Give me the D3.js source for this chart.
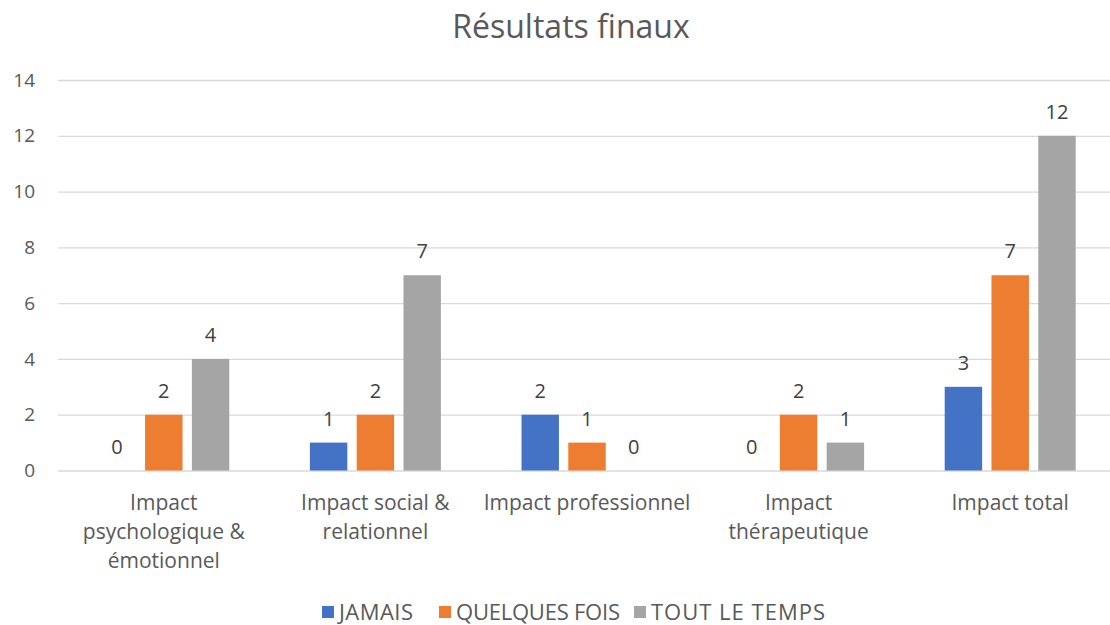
<!DOCTYPE html>
<html>
<head>
<meta charset="utf-8">
<script src="https://cdn.jsdelivr.net/npm/d3@7"></script>
<style>
  body { margin: 0; background: #fff; }
  text { font-family: "Open Sans", "Liberation Sans", Arial, sans-serif; }
</style>
</head>
<body>
<div id="chart"></div>
<script>
const categories = [
  ["Impact", "psychologique &", "émotionnel"],
  ["Impact social &", "relationnel"],
  ["Impact professionnel"],
  ["Impact", "thérapeutique"],
  ["Impact total"]
];
const seriesNames = ["JAMAIS", "QUELQUES FOIS", "TOUT LE TEMPS"];
const jamais = [0, 1, 2, 0, 3];
const quelquesFois = [2, 2, 1, 2, 7];
const toutLeTemps = [4, 7, 0, 1, 12];
const yTicks = [0, 2, 4, 6, 8, 10, 12, 14];
const colors = ["#4472C4", "#ED7D31", "#A5A5A5"];

const width = 1110;
const height = 625;
const margin = { top: 80, right: -6, bottom: 154, left: 58 };

const series = [jamais, quelquesFois, toutLeTemps];
const catIdx = d3.range(categories.length);

const svg = d3
  .select("#chart")
  .append("svg")
  .attr("width", width)
  .attr("height", height)
  .attr("viewBox", [0, 0, width, height]);

const x = d3
  .scaleBand()
  .domain(catIdx)
  .range([margin.left, width - margin.right]);

const groupW = 131;
const xInner = d3
  .scaleBand()
  .domain(d3.range(series.length))
  .range([(x.bandwidth() - groupW) / 2, (x.bandwidth() + groupW) / 2])
  .paddingInner(0.2);

const y = d3
  .scaleLinear()
  .domain([0, 14])
  .range([height - margin.bottom - 0.5, margin.top]);

// title
svg
  .append("text")
  .attr("x", 571)
  .attr("y", 38)
  .attr("text-anchor", "middle")
  .attr("font-size", 32)
  .attr("fill", "#595959")
  .text("Résultats finaux");

// gridlines + y labels
const yAxis = svg
  .append("g")
  .attr("transform", `translate(${margin.left},0)`)
  .call(
    d3.axisLeft(y)
      .tickValues(yTicks)
      .tickSize(-(width - margin.left))
      .tickPadding(23)
  );
yAxis.select(".domain").remove();
yAxis.selectAll(".tick line").attr("stroke", "#D9D9D9").attr("stroke-width", 1.3);
yAxis
  .selectAll(".tick text")
  .attr("font-size", 19)
  .attr("fill", "#595959")
  .attr("font-family", "Open Sans, Liberation Sans, Arial, sans-serif");

// bars
const groups = svg
  .append("g")
  .selectAll("g")
  .data(series)
  .join("g")
  .attr("fill", (d, i) => colors[i]);

groups
  .selectAll("rect")
  .data((vals, s) => vals.map((v, c) => ({ v, c, s })))
  .join("rect")
  .attr("x", (d) => x(d.c) + xInner(d.s))
  .attr("width", xInner.bandwidth())
  .attr("y", (d) => y(d.v))
  .attr("height", (d) => y(0) - y(d.v));

// value labels
groups
  .selectAll("text")
  .data((vals, s) => vals.map((v, c) => ({ v, c, s })))
  .join("text")
  .attr("x", (d) => x(d.c) + xInner(d.s) + xInner.bandwidth() / 2)
  .attr("y", (d) => y(d.v) - 17)
  .attr("text-anchor", "middle")
  .attr("font-size", 20)
  .attr("fill", "#404040")
  .text((d) => d.v);

// category labels
const catLabels = svg
  .append("g")
  .selectAll("text")
  .data(categories)
  .join("text")
  .attr("x", (d, i) => x(i) + x.bandwidth() / 2)
  .attr("y", 510)
  .attr("text-anchor", "middle")
  .attr("font-size", 21)
  .attr("fill", "#595959");

catLabels
  .selectAll("tspan")
  .data((d) => d)
  .join("tspan")
  .attr("x", function () {
    return this.parentNode.getAttribute("x");
  })
  .attr("dy", (d, i) => (i === 0 ? 0 : 29))
  .text((d) => d);

// legend
const legendX = [322, 439, 634];
const legend = svg
  .append("g")
  .selectAll("g")
  .data(seriesNames)
  .join("g")
  .attr("transform", (d, i) => `translate(${legendX[i]},606)`);

legend
  .append("rect")
  .attr("width", 12)
  .attr("height", 12)
  .attr("fill", (d, i) => colors[i]);

legend
  .append("text")
  .attr("x", 17)
  .attr("y", 14)
  .attr("font-size", 22)
  .attr("textLength", (d, i) => [74, 164, 174][i])
  .attr("fill", "#595959")
  .text((d) => d);
</script>
</body>
</html>
